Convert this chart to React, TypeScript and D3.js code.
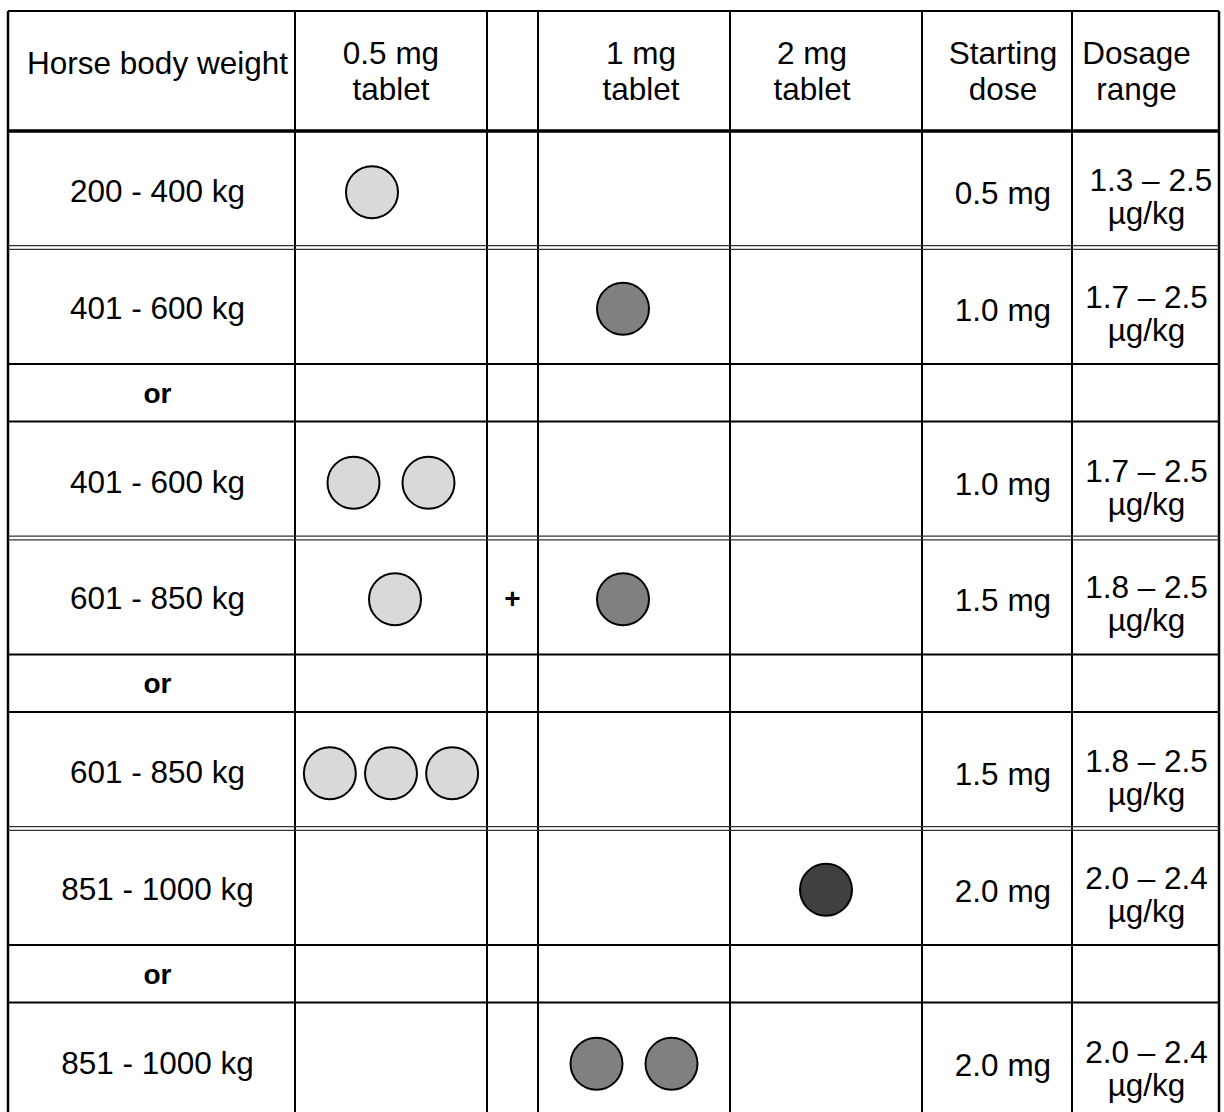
import * as d3 from 'd3';

// column headers (two-line headers split by \n)
const headers = ['Horse body weight', '0.5 mg\ntablet', '', '1 mg\ntablet', '2 mg\ntablet', 'Starting\ndose', 'Dosage\nrange'];

// one entry per table row
const weights = ['200 - 400 kg', '401 - 600 kg', 'or', '401 - 600 kg', '601 - 850 kg', 'or', '601 - 850 kg', '851 - 1000 kg', 'or', '851 - 1000 kg'];
const halfMgTablets = [1, 0, 0, 2, 1, 0, 3, 0, 0, 0];
const plusSign = [false, false, false, false, true, false, false, false, false, false];
const oneMgTablets = [0, 1, 0, 0, 1, 0, 0, 0, 0, 2];
const twoMgTablets = [0, 0, 0, 0, 0, 0, 0, 1, 0, 0];
const startingDose = ['0.5 mg', '1.0 mg', '', '1.0 mg', '1.5 mg', '', '1.5 mg', '2.0 mg', '', '2.0 mg'];
const dosageRange = ['\u00a01.3 \u2013 2.5', '1.7 \u2013 2.5', '', '1.7 \u2013 2.5', '1.8 \u2013 2.5', '', '1.8 \u2013 2.5', '2.0 \u2013 2.4', '', '2.0 \u2013 2.4'];
const dosageUnit = 'µg/kg';

const W = 1224;
const H = 1112;
const FONT = '"Liberation Sans", Arial, sans-serif';
const FS = 31.5;

const colEdges = [8, 295, 487, 538, 730, 922, 1072, 1219];
const headerOffset = [6, 0, 0, 7, -14, 6, -9];
const top = 11;
const headerH = 120;
const dataH = 116.5;
const orH = 57.5;

// single tablets are not always centred in their cell (as in the source document)
const singleNudge: Record<number, (row: number) => number> = {
  1: (row) => (row === 0 ? -19 : 4),
  3: () => -11,
  4: () => 0,
};

const tabletFill = { half: '#d9d9d9', one: '#808080', two: '#404040' };

export default function App() {
  const colIdx = d3.range(headers.length);
  const colLeft = d3.scaleOrdinal<number, number>().domain(colIdx).range(colEdges.slice(0, -1));
  const colRight = d3.scaleOrdinal<number, number>().domain(colIdx).range(colEdges.slice(1));
  const colMid = (i: number) => (colLeft(i) + colRight(i)) / 2;

  const heights = weights.map((w) => (w === 'or' ? orH : dataH));
  const rowTops = [top + headerH, ...Array.from(d3.cumsum(heights)).map((s) => top + headerH + s)];
  const rowY = d3.scaleOrdinal<number, number>().domain(d3.range(weights.length + 1)).range(rowTops);
  const rowMid = (i: number) => rowY(i) + heights[i] / 2;
  const bottom = rowTops[rowTops.length - 1];

  const tabletXs = (col: number, n: number, row: number) => {
    if (n === 1) return [colMid(col) + singleNudge[col](row)];
    const x = d3.scalePoint<number>()
      .domain(d3.range(n))
      .range([colLeft(col), colRight(col)])
      .padding(n === 3 ? 0.57 : 0.78);
    return d3.range(n).map((k) => x(k) as number);
  };

  const tablets: { x: number; y: number; fill: string }[] = [];
  weights.forEach((_, i) => {
    const cy = rowMid(i) + 3;
    const add = (col: number, n: number, fill: string) => {
      if (n > 0) tabletXs(col, n, i).forEach((x) => tablets.push({ x, y: cy, fill }));
    };
    add(1, halfMgTablets[i], tabletFill.half);
    add(3, oneMgTablets[i], tabletFill.one);
    add(4, twoMgTablets[i], tabletFill.two);
  });

  // row separators: double line between two data rows, single otherwise
  const separators = d3.range(1, weights.length).map((i) => ({
    y: rowY(i),
    double: weights[i - 1] !== 'or' && weights[i] !== 'or',
  }));

  const x0 = colEdges[0];
  const x1 = colEdges[colEdges.length - 1];

  return (
    <svg width={W} height={H} style={{ position: 'absolute', left: 0, top: 0, background: '#fff' }}
      fontFamily={FONT} fontSize={FS}>
      <rect width={W} height={H} fill="#fff" />

      {/* header texts */}
      {headers.map((h, i) => {
        const lines = h.split('\n');
        const cx = colMid(i) + headerOffset[i];
        if (lines.length === 1) {
          return <text key={i} x={cx} y={top + 63} textAnchor="middle">{lines[0]}</text>;
        }
        return (
          <text key={i} x={cx} textAnchor="middle">
            <tspan x={cx} y={top + 53}>{lines[0]}</tspan>
            <tspan x={cx} y={top + 89}>{lines[1]}</tspan>
          </text>
        );
      })}

      {/* body texts */}
      {weights.map((w, i) => (
        <text key={'w' + i} x={colMid(0) + 6} y={rowMid(i) + (w === 'or' ? 10 : 13)} textAnchor="middle"
          fontWeight={w === 'or' ? 'bold' : 'normal'} fontSize={w === 'or' ? 28 : FS}>{w}</text>
      ))}
      {plusSign.map((p, i) => p && (
        <text key={'p' + i} x={colMid(2)} y={rowMid(i) + 12} textAnchor="middle" fontWeight="bold" fontSize={28}>+</text>
      ))}
      {startingDose.map((d, i) => d && (
        <text key={'s' + i} x={colMid(5) + 6} y={rowMid(i) + 15} textAnchor="middle">{d}</text>
      ))}
      {dosageRange.map((d, i) => d && (
        <text key={'d' + i} x={colMid(6) + 1} textAnchor="middle" style={{ whiteSpace: 'pre' }}>
          <tspan x={colMid(6) + 1} y={rowMid(i) + 2}>{d}</tspan>
          <tspan x={colMid(6) + 1} y={rowMid(i) + 35}>{dosageUnit}</tspan>
        </text>
      ))}

      {/* tablets */}
      {tablets.map((t, k) => (
        <circle key={k} cx={t.x} cy={t.y} r={26} fill={t.fill} stroke="#000" strokeWidth={2} />
      ))}

      {/* grid lines */}
      <g stroke="#000">
        {colEdges.map((x, i) => (
          <line key={'v' + i} x1={x} x2={x} y1={top} y2={bottom} strokeWidth={i === 0 || i === colEdges.length - 1 ? 2.5 : 2} />
        ))}
        <line x1={x0} x2={x1} y1={top} y2={top} strokeWidth={2} />
        <line x1={x0} x2={x1} y1={rowY(0)} y2={rowY(0)} strokeWidth={3.5} />
        {separators.map((s, i) => s.double ? (
          <g key={'h' + i} stroke="#333" strokeWidth={1.3}>
            <line x1={x0} x2={x1} y1={s.y - 1.8} y2={s.y - 1.8} />
            <line x1={x0} x2={x1} y1={s.y + 1.8} y2={s.y + 1.8} />
          </g>
        ) : (
          <line key={'h' + i} x1={x0} x2={x1} y1={s.y} y2={s.y} strokeWidth={2} />
        ))}
      </g>
    </svg>
  );
}
